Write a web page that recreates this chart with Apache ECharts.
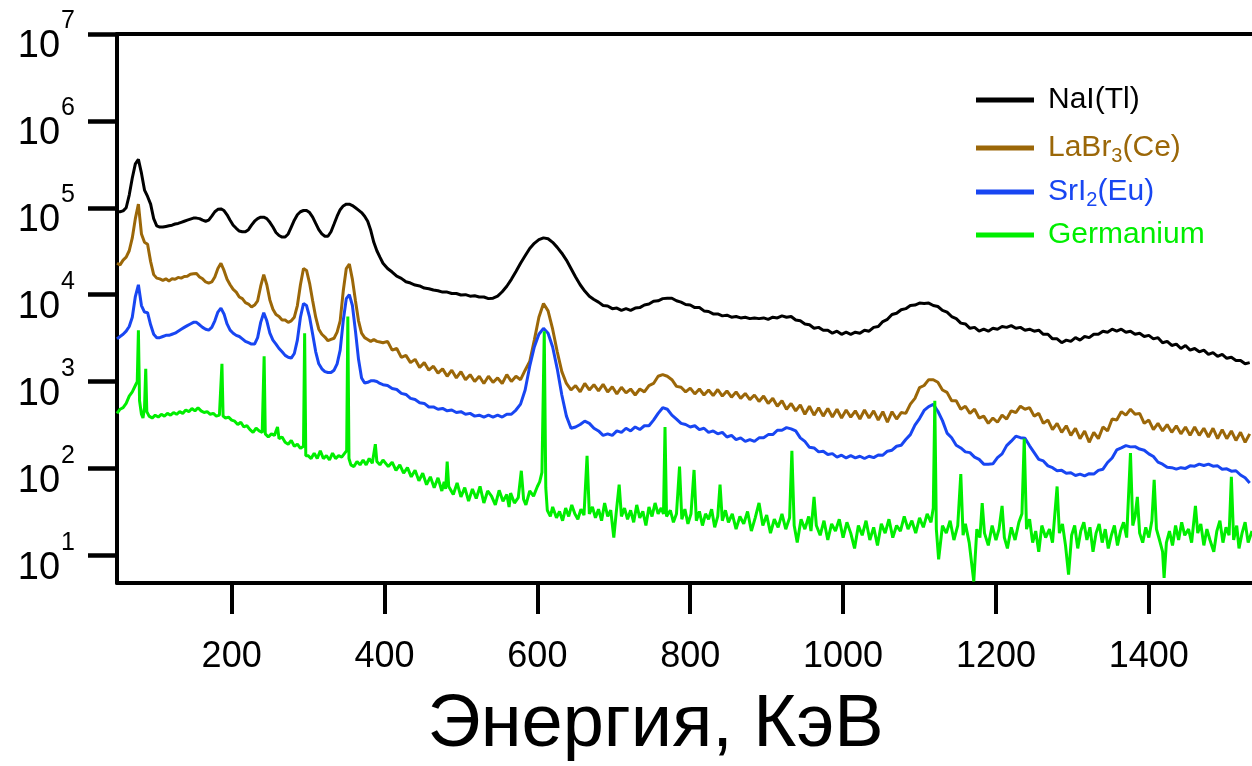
<!DOCTYPE html>
<html><head><meta charset="utf-8">
<script src="https://cdn.jsdelivr.net/npm/echarts@6/dist/echarts.min.js"></script>
<style>html,body{margin:0;padding:0;background:#fff}#c{width:1252px;height:766px}</style>
</head><body><div id="c"></div>
<script>
// Energy grid (keV) shared by the three scintillator spectra
const energy = [
50,54,58,62,66,70,74,78,82,86,
90,94,98,102,106,110,114,118,122,126,
130,134,138,142,146,150,154,158,162,166,
170,174,178,182,186,190,194,198,202,206,
210,214,218,222,226,230,234,238,242,246,
250,254,258,262,266,270,274,278,282,286,
290,294,298,302,306,310,314,318,322,326,
330,334,338,342,346,350,354,358,362,366,
370,374,378,382,386,390,394,398,404,410,
416,422,428,434,440,446,452,458,464,470,
476,482,488,494,500,506,512,518,524,530,
536,542,548,554,560,566,572,578,584,590,
596,602,608,614,620,626,632,638,644,650,
656,662,668,674,680,686,692,698,704,710,
716,722,728,734,740,746,752,758,764,770,
776,782,788,794,800,806,812,818,824,830,
836,842,848,854,860,866,872,878,884,890,
896,902,908,914,920,926,932,938,944,950,
956,962,968,974,980,986,992,998,1004,1010,
1016,1022,1028,1034,1040,1046,1052,1058,1064,1070,
1076,1082,1088,1094,1100,1106,1112,1118,1124,1130,
1136,1142,1148,1154,1160,1166,1172,1178,1184,1190,
1196,1202,1208,1214,1220,1226,1232,1238,1244,1250,
1256,1262,1268,1274,1280,1286,1292,1298,1304,1310,
1316,1322,1328,1334,1340,1346,1352,1358,1364,1370,
1376,1382,1388,1394,1400,1406,1412,1418,1424,1430,
1436,1442,1448,1454,1460,1466,1472,1478,1484,1490,
1496,1502,1508,1514,1520,1526,1532
];

const naiCounts = [
90000,90000,92000,100000,140000,220000,320000,360000,250000,160000,
135000,110000,75000,62000,60000,60000,61000,62000,63000,65000,
66000,68000,70000,72000,74000,76000,76000,75000,72000,70000,
72000,80000,90000,96000,97000,93000,83000,72000,63000,58000,
54000,53000,53000,56000,63000,70000,75000,78000,78000,75000,
68000,60000,52000,48000,46000,46000,50000,60000,72000,83000,
90000,93000,93000,88000,78000,66000,56000,50000,47000,47000,
53000,65000,80000,95000,105000,110000,110000,106000,100000,94000,
88000,80000,70000,55000,40000,32000,27000,23000,20000,18200,
16300,15400,14100,13600,12900,12600,11900,11700,11300,11100,
10700,10700,10300,10300,9900,10000,9600,9700,9400,9400,
9000,9100,9600,10800,12500,15000,18500,23000,28000,34000,
39000,43000,45000,44000,40000,35000,30000,25000,20000,16000,
13000,11000,9600,8800,8200,7500,7400,6900,7000,6600,
6900,6600,7000,7100,7600,7800,8400,8500,9000,9100,
9100,8500,8200,7700,7600,7100,7100,6500,6400,6000,
6000,5700,5800,5500,5600,5400,5500,5300,5400,5300,
5400,5200,5500,5400,5700,5500,5600,5100,5000,4600,
4500,4100,4200,3900,3900,3600,3800,3500,3700,3500,
3700,3600,3900,3800,4200,4300,4900,5200,5900,6100,
6700,6900,7500,7600,8000,7900,8000,7500,7300,6600,
6300,5600,5300,4700,4600,4100,4200,3800,4000,3800,
4100,4000,4300,4200,4400,4100,4200,3900,4000,3800,
3900,3500,3500,3100,3100,2800,3000,2900,3200,3000,
3300,3200,3500,3500,3800,3700,4000,3800,4000,3700,
3800,3500,3600,3300,3400,3100,3200,2800,2900,2600,
2700,2400,2600,2300,2400,2200,2300,2050,2150,1950,
2050,1850,1900,1750,1750,1600,1650
];

const labrCounts = [
23000,22000,25000,27000,32000,45000,75000,110000,50000,40000,
38000,24000,17000,15500,15200,14600,15200,14400,15200,15000,
15800,15500,16200,16300,17200,17400,17500,16000,15200,14000,
13600,14000,16000,20000,23000,19000,15000,13000,11500,10700,
9400,9000,8100,7800,7200,7600,8500,12500,17000,13000,
8700,6800,5900,5600,5100,5100,4800,5000,5500,7500,
13000,20000,19000,13500,8500,5500,4000,3500,3250,2950,
3050,3150,3700,5000,11000,20000,22500,15000,8500,5000,
3600,3200,3050,2900,3050,2900,2850,2800,2900,2300,
2400,1900,2000,1650,1800,1450,1650,1350,1500,1250,
1400,1150,1350,1100,1300,1050,1200,1000,1150,950,
1150,980,1100,950,1200,1000,1150,1050,1350,1700,
3000,5500,7900,6500,4000,2200,1300,950,800,900,
760,950,800,920,780,930,760,870,720,860,
740,820,700,820,760,900,950,1150,1200,1150,
1050,880,860,760,840,720,820,700,800,690,
810,680,780,660,760,640,730,620,700,590,
680,560,640,520,600,480,560,460,540,420,
520,410,500,400,490,390,480,380,470,390,
460,370,470,380,460,360,450,340,450,370,
440,430,550,640,850,900,1050,1050,980,800,
750,600,600,480,520,430,480,380,400,330,
380,340,410,370,460,440,520,480,500,400,
430,330,360,280,330,260,310,240,290,220,
270,200,260,220,300,270,370,360,450,410,
480,420,430,330,360,280,330,270,320,260,
310,250,300,240,300,240,290,230,290,220,
280,220,270,210,260,200,250
];

const sriCounts = [
3100,3300,3500,3800,4300,5500,9500,13000,7500,6300,
6200,4500,3500,3200,3200,3300,3400,3400,3500,3600,
3800,4000,4200,4400,4600,4800,4800,4500,4200,4000,
3900,4200,5000,6300,7000,6000,4600,3900,3600,3400,
3300,3100,2900,2800,2700,2700,3200,4800,6200,5000,
3600,3000,2700,2400,2200,2000,1900,1860,2100,3000,
5500,7900,7500,5500,3500,2200,1600,1400,1300,1270,
1270,1350,1600,2300,5000,9000,10000,7500,3800,1800,
1100,960,980,1020,1020,1000,950,920,900,830,
810,730,710,640,620,570,560,510,510,480,
490,460,470,440,450,420,430,400,410,390,
410,390,410,390,420,420,470,550,800,1500,
2500,3500,4100,3600,2500,1400,700,400,290,300,
320,350,330,290,270,240,250,240,270,260,
290,270,300,280,310,310,360,430,500,480,
410,370,330,320,300,310,280,290,260,270,
250,260,230,240,215,225,205,215,205,225,
225,245,245,275,275,295,285,270,225,205,
175,172,155,158,145,148,135,142,132,140,
132,138,130,138,133,143,142,158,162,180,
185,215,245,315,375,465,515,545,455,355,
255,225,185,172,155,152,135,127,112,112,
113,133,147,183,206,235,226,222,182,152,
127,122,107,102,94,95,88,89,83,86,
82,87,86,95,98,117,132,163,172,183,
177,178,167,162,147,137,118,112,103,102,
98,102,100,107,106,112,108,112,106,107,
98,99,93,94,84,78,68
];

// Germanium spectrum: [energy keV, counts]
const germanium = [
[50,430],[54,480],[58,500],[62,560],[66,680],[70,760],[74,900],[76.5,1000],[78,3900],[79.5,600],
[82,420],[84,380],[86,500],[87.6,1400],[89,450],[92,400],[96,380],[100,410],[104,390],[108,420],
[112,400],[116,430],[120,410],[124,440],[128,420],[132,450],[136,430],[140,470],[144,450],[148,490],
[152,460],[156,500],[160,460],[164,440],[168,450],[172,420],[176,430],[180,400],[184,410],[185.8,420],
[187.3,1600],[188.8,400],[192,380],[196,390],[200,360],[204,350],[208,320],[212,340],[216,300],[220,310],
[224,280],[228,260],[232,290],[236,270],[240,260],[241,270],[242.5,1950],[244,250],[248,230],[252,250],
[256,240],[260,300],[262,220],[266,230],[270,200],[274,190],[278,210],[282,180],[286,190],[290,170],
[294,180],[295.5,3600],[297,140],[300,140],[304,130],[308,150],[312,130],[316,160],[320,130],[324,140],
[328,125],[332,150],[336,130],[340,140],[344,135],[348,150],[350.5,160],[352,5600],[353.5,130],[356,110],
[360,105],[364,120],[368,110],[372,125],[376,110],[380,130],[384,115],[388,190],[390,120],[394,110],
[398,125],[400,125],[405,105],[410,118],[415,95],[420,110],[425,88],[430,102],[435,80],[440,95],
[445,72],[450,88],[455,65],[460,80],[465,60],[470,78],[475,55],[478,70],[480,58],[482,120],
[484,62],[490,50],[495,68],[500,47],[505,60],[510,42],[515,58],[520,45],[525,62],[530,40],
[535,55],[540,48],[545,38],[550,56],[555,42],[560,50],[563,36],[565,52],[570,40],[575,46],
[579,94],[582,44],[585,38],[590,55],[595,48],[600,62],[603,70],[606,90],[609,3800],[611,60],
[613,33],[617,28],[620,36],[625,27],[629,32],[633,25],[637,35],[641,28],[645,38],[649,30],
[653,26],[657,34],[661,29],[665,140],[668,30],[672,36],[676,27],[680,34],[684,25],[688,40],
[692,28],[696,33],[700,16],[703,30],[707,65],[710,28],[714,35],[718,26],[722,33],[726,24],
[730,38],[734,27],[738,32],[742,22],[746,36],[750,28],[754,40],[758,30],[762,35],[765,30],
[767,300],[769,28],[774,33],[778,24],[782,30],[786,105],[789,26],[793,34],[797,23],[801,30],
[805,96],[808,25],[812,32],[816,22],[820,30],[824,26],[828,34],[832,21],[836,28],[839,65],
[842,25],[846,33],[850,24],[855,30],[860,20],[865,28],[870,23],[875,32],[880,19],[885,27],
[890,40],[895,22],[900,29],[905,18],[910,26],[915,21],[920,30],[925,20],[930,27],[933,160],
[936,22],[940,14],[945,26],[950,20],[955,28],[958,19],[962,47],[965,22],[970,17],[975,25],
[980,15],[985,23],[990,19],[995,26],[1000,16],[1005,24],[1010,18],[1015,12],[1020,22],[1025,17],
[1030,25],[1035,15],[1040,21],[1045,13],[1050,23],[1055,18],[1060,26],[1065,16],[1070,22],[1075,19],
[1080,28],[1085,20],[1090,25],[1095,18],[1100,27],[1105,21],[1110,30],[1115,24],[1118,35],[1120,600],
[1122,20],[1125,9],[1130,22],[1135,18],[1140,25],[1145,15],[1150,22],[1154,86],[1157,17],[1160,23],
[1165,14],[1171,5],[1175,20],[1179,16],[1182,40],[1185,18],[1190,13],[1195,22],[1200,15],[1204,20],
[1208,37],[1211,16],[1215,12],[1220,21],[1225,15],[1230,24],[1234,30],[1237,220],[1240,20],[1244,26],
[1248,14],[1252,19],[1256,11],[1260,22],[1265,16],[1270,20],[1274,14],[1280,62],[1283,18],[1287,23],
[1291,13],[1295,6],[1299,17],[1303,22],[1307,12],[1311,19],[1315,24],[1319,15],[1323,21],[1327,11],
[1331,18],[1335,23],[1339,14],[1343,20],[1347,12],[1351,17],[1355,22],[1359,13],[1363,19],[1367,24],
[1371,16],[1376,150],[1379,22],[1382,28],[1385,47],[1388,18],[1392,14],[1396,21],[1400,16],[1404,25],
[1407,74],[1410,20],[1414,15],[1418,11],[1420,5.5],[1423,14],[1427,19],[1431,13],[1435,22],[1439,15],
[1443,24],[1447,17],[1452,20],[1456,14],[1461,37],[1464,18],[1468,23],[1472,13],[1476,20],[1480,15],
[1485,11],[1489,19],[1493,25],[1497,14],[1501,21],[1505,17],[1508,80],[1511,15],[1515,22],[1518,12],
[1522,18],[1526,24],[1530,14],[1535,19]
];

const seriesNames = ['NaI(Tl)', 'LaBr3(Ce)', 'SrI2(Eu)', 'Germanium'];
const seriesColors = ['#000000', '#9b6708', '#1846f2', '#00ee00'];
const legendRowTops = [85, 130, 174, 220];
const xTickValues = [200, 400, 600, 800, 1000, 1200, 1400];
const yTickValues = [10, 100, 1000, 10000, 100000, 1000000, 10000000];
const xTitle = 'Энергия, КэВ';

const FONT = '"Liberation Sans", Arial, Helvetica, sans-serif';
const pairs = (xs, ys) => xs.map((x, i) => [x, ys[i]]);
const spectra = [pairs(energy, naiCounts), pairs(energy, labrCounts), pairs(energy, sriCounts), germanium];

const legendRich = {
  f: { fontSize: 30, lineHeight: 36, fontFamily: FONT, padding: [0, 0, 0, 9] },
  n: { fontSize: 30, lineHeight: 36, fontFamily: FONT },
  s: { fontSize: 20, lineHeight: 20, fontFamily: FONT, padding: [16, 0, 0, 0] }
};
function legendLabel(name) {
  if (name === 'LaBr3(Ce)') return '{f|LaBr}{s|3}{n|(Ce)}';
  if (name === 'SrI2(Eu)') return '{f|SrI}{s|2}{n|(Eu)}';
  return '{f|' + name + '}';
}

const chart = echarts.init(document.getElementById('c'), null, { renderer: 'canvas' });
chart.setOption({
  animation: false,
  backgroundColor: '#ffffff',
  grid: { left: 117, right: 0, top: 34, bottom: 183, containLabel: false, outerBoundsMode: 'none' },
  legend: seriesNames.map((n, i) => ({
    orient: 'vertical', left: 976, top: legendRowTops[i], itemGap: 0, padding: 0,
    itemWidth: 58, itemHeight: 5, icon: 'rect', selectedMode: false,
    data: [{ name: n, textStyle: { color: seriesColors[i] } }],
    formatter: legendLabel,
    textStyle: { fontFamily: FONT, fontSize: 30, rich: legendRich }
  })),
  xAxis: [{
    type: 'value', min: 50, max: 1535, position: 'bottom',
    name: xTitle, nameLocation: 'middle', nameGap: 106,
    nameTextStyle: { fontFamily: FONT, fontSize: 74, color: '#000', padding: [0, 58, 0, 0] },
    axisLine: { show: true, onZero: false, lineStyle: { color: '#000', width: 4 } },
    axisTick: { show: true, inside: false, length: 31, customValues: xTickValues, lineStyle: { color: '#000', width: 4 } },
    axisLabel: { show: true, customValues: xTickValues, margin: 56, fontFamily: FONT, fontSize: 36, color: '#000', formatter: v => String(v) },
    splitLine: { show: false }
  }, {
    type: 'value', min: 50, max: 1535, position: 'top',
    axisLine: { show: true, onZero: false, lineStyle: { color: '#000', width: 4 } },
    axisTick: { show: false }, axisLabel: { show: false }, splitLine: { show: false }
  }],
  yAxis: {
    type: 'log', logBase: 10, min: 4.8, max: 10000000,
    axisLine: { show: true, onZero: false, lineStyle: { color: '#000', width: 4 } },
    axisTick: { show: true, inside: false, length: 29, customValues: yTickValues, lineStyle: { color: '#000', width: 4.5 } },
    axisLabel: {
      show: true, customValues: yTickValues, margin: 42, color: '#000', fontFamily: FONT,
      formatter: v => '{b|10}{e|' + Math.round(Math.log10(v)) + '}',
      rich: {
        b: { fontSize: 38, lineHeight: 64, verticalAlign: 'bottom', fontFamily: FONT, color: '#000' },
        e: { fontSize: 25, lineHeight: 25, verticalAlign: 'top', padding: [7, 0, 0, 1], fontFamily: FONT, color: '#000' }
      }
    },
    splitLine: { show: false }, minorTick: { show: false }
  },
  series: seriesNames.map((n, i) => ({
    name: n, type: 'line', xAxisIndex: 0, showSymbol: false, symbol: 'none',
    data: spectra[i], clip: true,
    itemStyle: { color: seriesColors[i] },
    lineStyle: { color: seriesColors[i], width: 3 },
    emphasis: { disabled: true }
  }))
});
</script></body></html>
